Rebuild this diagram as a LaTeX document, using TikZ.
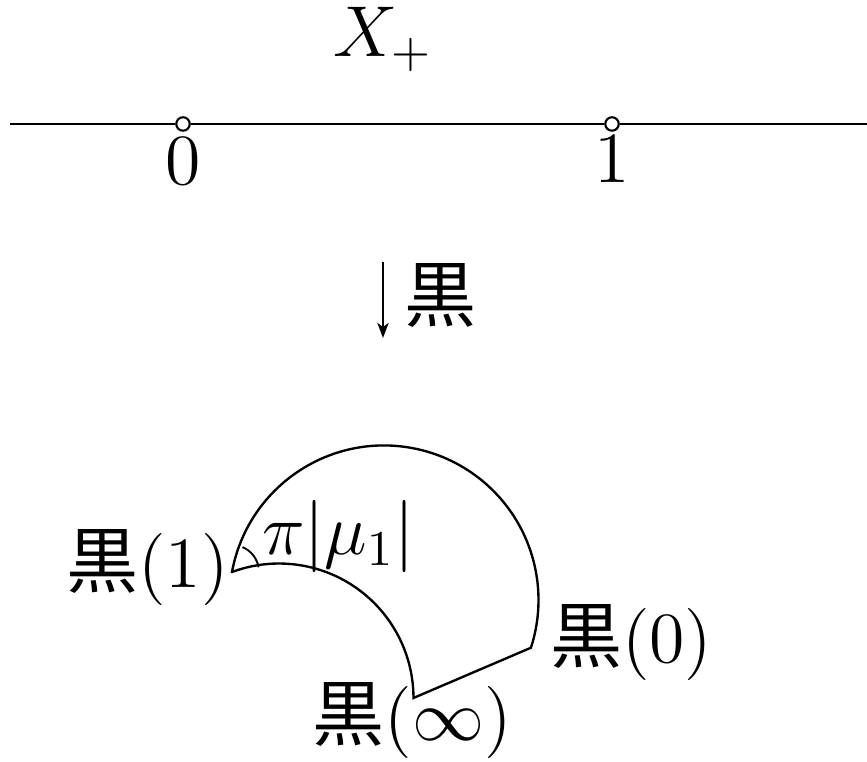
\documentclass[tikz,border=0pt]{standalone}
\usepackage{fontspec}
\newfontfamily\cjk{Noto Sans CJK JP}
\usetikzlibrary{arrows.meta}
\begin{document}
\begin{tikzpicture}[x=0.2118pt,y=0.2118pt,line width=0.5pt,
  lbl/.style={inner sep=0pt,font=\Large,scale=1.06},
  hole/.style={circle,draw,fill=white,inner sep=0pt,minimum size=2.85pt,line width=0.45pt}]
\useasboundingbox (0,0) rectangle (867,762);
% top line
\node[lbl,anchor=base] (X) at (383,705) {$X_+$};
\coordinate (L) at (10,638);
\coordinate (R) at (867,638);
\node[hole] (p0) at (183,638) {};
\node[hole] (p1) at (612,638) {};
\draw (L) -- (p0) -- (p1) -- (R);
\node[lbl,anchor=base] (l0) at (183,577) {$0$};
\node[lbl,anchor=base] (l1) at (612,579) {$1$};
% map arrow
\coordinate (at) at (383,500);
\coordinate (ab) at (383,424);
\draw[-{Stealth[length=3.2pt,width=2.4pt,inset=0.9pt]},line width=0.45pt] (at) -- (ab);
\node[lbl,anchor=base west] (m) at (403,440) {\cjk 黒};
% image region
\coordinate (A) at (232,190);
\coordinate (C) at (413.48,64);
\draw (A) arc[start angle=169.56,end angle=-18,radius=32.73pt] -- (C)
      arc[start angle=0,end angle=110.45,radius=28.48pt] -- cycle;
\draw[line width=0.4pt] ([shift={(10:27)}]A) arc[start angle=10,end angle=67,radius=5.72pt];
\node[lbl,anchor=base east] (v1) at (230,174) {{\cjk 黒}$(1)$};
\node[lbl,anchor=base west] (v0) at (549,99) {{\cjk 黒}$(0)$};
\node[lbl,anchor=base] (vi) at (412,21) {{\cjk 黒}$(\infty)$};
\node[lbl,anchor=base west] (ang) at (261,207) {$\pi|\mu_1|$};
\end{tikzpicture}
\end{document}
